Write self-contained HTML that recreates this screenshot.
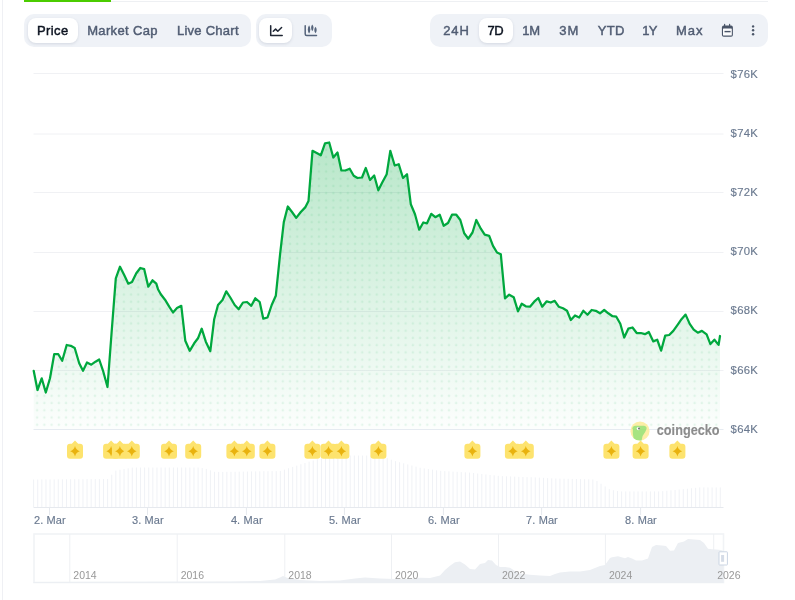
<!DOCTYPE html>
<html><head><meta charset="utf-8">
<style>
html,body{margin:0;padding:0;background:#fff;}
body{width:795px;height:600px;overflow:hidden;position:relative;font-family:"Liberation Sans",Arial,sans-serif;}
.chart{position:absolute;left:0;top:0;}
.lb{position:absolute;left:2px;top:0;width:1px;height:600px;background:#eff0f4;}
.tl{position:absolute;left:24px;top:1px;width:744px;height:1px;background:#eef0f3;}
.tg{position:absolute;left:24px;top:0;width:87px;height:2px;background:#4bcc00;}
.grp{position:absolute;top:14px;height:33px;background:#eff2f7;border-radius:10px;}
.btn{position:absolute;height:25px;border-radius:8px;background:#fff;box-shadow:0 1px 3px rgba(88,102,126,0.18);}
.tx{position:absolute;top:18px;height:25px;line-height:25px;font-size:13px;color:#515d73;-webkit-text-stroke:0.45px #515d73;white-space:nowrap;}
.tx.on{color:#0d1421;-webkit-text-stroke:0.45px #0d1421;}
.ic{position:absolute;left:0;top:0;}
.wrap{position:absolute;left:0;top:0;width:795px;height:600px;background:#fff;will-change:transform;}
.yl text{font-size:11.3px;letter-spacing:0.3px;fill:#6b7a90;stroke:#6b7a90;stroke-width:0.15px;font-family:"Liberation Sans",Arial,sans-serif;}
.xl text{font-size:11px;letter-spacing:0.1px;fill:#6b7a90;stroke:#6b7a90;stroke-width:0.15px;font-family:"Liberation Sans",Arial,sans-serif;}
.nl text{font-size:10.5px;fill:#999;font-family:"Liberation Sans",Arial,sans-serif;}
.cg{font-size:14.4px;font-weight:bold;fill:#8c8c8c;stroke:#8c8c8c;stroke-width:0.1px;font-family:"Liberation Sans",Arial,sans-serif;}
</style></head><body><div class="wrap">
<div class="lb"></div>
<div class="tl"></div>
<div class="tg"></div>
<div class="grp" style="left:24px;width:227.3px;"></div>
<div class="btn on" style="left:27.8px;top:18px;width:49.9px;"></div>
<div class="grp" style="left:255.7px;width:76px;"></div>
<div class="btn on" style="left:259px;top:18px;width:33px;"></div>
<div class="grp" style="left:430px;width:338px;"></div>
<div class="btn on" style="left:479px;top:18px;width:34px;"></div>
<div class="tx on" style="left:36.9px;letter-spacing:0.43px">Price</div>
<div class="tx" style="left:87.16px;letter-spacing:0.36px">Market Cap</div>
<div class="tx" style="left:176.96px;letter-spacing:0.26px">Live Chart</div>
<div class="tx" style="left:443.15px;letter-spacing:0.9px">24H</div>
<div class="tx on" style="left:487.45px;letter-spacing:-0.35px">7D</div>
<div class="tx" style="left:522.15px;letter-spacing:-0.1px">1M</div>
<div class="tx" style="left:559.14px;letter-spacing:1.1px">3M</div>
<div class="tx" style="left:597.73px;letter-spacing:0.35px">YTD</div>
<div class="tx" style="left:642.2px;letter-spacing:-0.6px">1Y</div>
<div class="tx" style="left:675.96px;letter-spacing:1.0px">Max</div>
<svg class="ic" width="795" height="60" viewBox="0 0 795 60">
<g fill="none" stroke="#1e2533" stroke-width="1.5" stroke-linecap="round" stroke-linejoin="round"><path d="M270.7 25.8 V35.5 H282.2"/><path d="M273.3 31.3 L275.6 29.1 L277.8 31.2 L281.6 27.5"/></g>
<g fill="none" stroke="#55647b" stroke-width="1.5" stroke-linecap="round" stroke-linejoin="round"><path d="M305.2 25.8 V34 Q305.2 35.5 306.7 35.5 H316.5"/></g>
<g fill="#55647b">
<path d="M309.07 25.3 Q310.3 27 310.3 29.45 Q310.3 31.9 309.07 33.6 Q307.84 31.9 307.84 29.45 Q307.84 27 309.07 25.3Z"/>
<path d="M312.3 24.5 Q313.5 26 313.5 27.85 Q313.5 29.7 312.3 31.2 Q311.1 29.7 311.1 27.85 Q311.1 26 312.3 24.5Z"/>
<path d="M315.5 26.8 Q316.7 28.3 316.7 30.05 Q316.7 31.8 315.5 33.3 Q314.3 31.8 314.3 30.05 Q314.3 28.3 315.5 26.8Z"/>
</g>
<g fill="#4a5568"><rect x="721.9" y="25.6" width="11" height="11.1" rx="1.8"/><rect x="724" y="23.8" width="1.2" height="2.6" rx="0.6"/><rect x="729" y="23.8" width="1.2" height="2.6" rx="0.6"/></g>
<rect x="723" y="28.5" width="8.8" height="7.1" rx="0.6" fill="#fbfcfd"/>
<rect x="724.5" y="30.9" width="6.1" height="1.4" fill="#4a5568"/>
<g fill="#4a5568"><circle cx="753.1" cy="26.4" r="1.2"/><circle cx="753.1" cy="30.3" r="1.2"/><circle cx="753.1" cy="34.2" r="1.2"/></g>
</svg>
<svg class="chart" width="795" height="600" viewBox="0 0 795 600">
<defs>
<linearGradient id="g" x1="0" y1="142" x2="0" y2="429.2" gradientUnits="userSpaceOnUse">
<stop offset="0" stop-color="#00a83e" stop-opacity="0.28"/>
<stop offset="1" stop-color="#00a83e" stop-opacity="0.01"/>
</linearGradient>
<pattern id="dots" x="33.54" y="1.570" width="7.225" height="7.235" patternUnits="userSpaceOnUse">
<circle cx="3.61" cy="3.6" r="1.25" fill="#00a83e" fill-opacity="0.09"/>
</pattern>
<clipPath id="ac"><path d="M33.7 370.8 L37.5 390 L41.7 378.3 L45.8 392.5 L50 378.3 L54.2 354.2 L58.3 354.2 L62.2 360.8 L66.7 345 L70.8 345.8 L74.7 348 L79.2 363.3 L83 370.8 L87 362.5 L91.3 364.7 L95.5 361.7 L99.2 359.5 L103.3 371.7 L107.5 387 L111.6 332.5 L115.8 278.3 L120 266.7 L124.2 275 L128.3 283.7 L132 282 L136.3 273.3 L140.3 268 L144.2 269.2 L148.3 286.7 L152.5 280.3 L156.3 283.7 L158 289.2 L160.8 294.2 L165 299.7 L169.2 306.7 L173 312.5 L177 308 L181.3 305.8 L185.3 340.8 L189.7 350.8 L194.2 343.3 L198 338.3 L201.7 328.7 L205.8 341.7 L210.3 351.2 L214.2 319.2 L218 305 L222.5 300 L226.3 291.3 L230.3 297.5 L234.7 305 L238.7 309.2 L243 302.5 L247 302 L251.3 305.8 L255.3 298.3 L259.7 302 L263.3 318.7 L267.5 317.5 L271.7 305 L275.8 295.8 L280.1 254.2 L283.8 222.1 L287.8 206.5 L292 212 L296.2 217.9 L300.8 212 L305.2 207.4 L308.5 201 L312.5 150.8 L316.7 153 L320.8 155.3 L325 143.3 L329.2 142.5 L333.3 157.5 L337.5 152.5 L341.3 170.3 L345.3 170.5 L349.7 168.7 L353.7 175.8 L357.5 178 L362 177.5 L365.8 168 L370 180 L374.2 175.5 L378.3 190.3 L382.5 182 L386.7 174.2 L390.3 150.8 L394.7 165.5 L398.7 164.2 L403 178 L407 174.2 L410.8 204.2 L415 214.2 L419.2 229.7 L423.3 222.5 L427 223.3 L431.3 213.8 L435.3 217.2 L439.7 214.7 L443.7 225.8 L448 223 L452 214.7 L456.3 214.7 L460.3 220 L464.2 233.3 L468.3 238.7 L472.5 232.5 L476.3 220 L480.8 228.7 L484.7 234.7 L489.2 235.8 L493 245.8 L497 252.5 L500.8 254.2 L505 298.3 L509.2 294.7 L513.7 297.2 L518 311.3 L521.7 303.7 L525.8 306.3 L530 306.7 L534.2 301.7 L538.3 298 L542.2 306.7 L546.7 301.3 L550.8 302.5 L554.7 300.8 L558.7 306.7 L563 308.3 L567 310.8 L570.8 320 L575 315.5 L579.2 317.5 L583.3 310.8 L587.5 314.7 L591.7 310 L595.8 310.8 L600 313.3 L604.2 310 L608.3 313.3 L612.5 316.2 L616.3 316.7 L620.3 323.7 L624.2 337.5 L628.3 328.7 L632.5 327.5 L636.7 333 L640.8 333 L645 334.2 L648.8 332 L653.3 341.4 L657.2 339.7 L661.1 350.7 L665.2 335.6 L669.2 335 L673.3 330.9 L677.4 325.1 L681.5 319.2 L685.6 314.6 L689.7 323.9 L693.7 329.7 L697.8 332.7 L701.9 330.9 L706.6 334.4 L710.4 344.1 L714.4 339.7 L718.6 344.9 L720 336 L720 429.2 L33.7 429.2 Z"/></clipPath>
</defs>
<line x1="33.5" x2="723.5" y1="73.5" y2="73.5" stroke="#f0f1f4" stroke-width="1"/><line x1="33.5" x2="723.5" y1="134" y2="134" stroke="#f0f1f4" stroke-width="1"/><line x1="33.5" x2="723.5" y1="192.5" y2="192.5" stroke="#f0f1f4" stroke-width="1"/><line x1="33.5" x2="723.5" y1="252.5" y2="252.5" stroke="#f0f1f4" stroke-width="1"/><line x1="33.5" x2="723.5" y1="311.5" y2="311.5" stroke="#f0f1f4" stroke-width="1"/><line x1="33.5" x2="723.5" y1="370.5" y2="370.5" stroke="#f0f1f4" stroke-width="1"/>
<path d="M33.7 370.8 L37.5 390 L41.7 378.3 L45.8 392.5 L50 378.3 L54.2 354.2 L58.3 354.2 L62.2 360.8 L66.7 345 L70.8 345.8 L74.7 348 L79.2 363.3 L83 370.8 L87 362.5 L91.3 364.7 L95.5 361.7 L99.2 359.5 L103.3 371.7 L107.5 387 L111.6 332.5 L115.8 278.3 L120 266.7 L124.2 275 L128.3 283.7 L132 282 L136.3 273.3 L140.3 268 L144.2 269.2 L148.3 286.7 L152.5 280.3 L156.3 283.7 L158 289.2 L160.8 294.2 L165 299.7 L169.2 306.7 L173 312.5 L177 308 L181.3 305.8 L185.3 340.8 L189.7 350.8 L194.2 343.3 L198 338.3 L201.7 328.7 L205.8 341.7 L210.3 351.2 L214.2 319.2 L218 305 L222.5 300 L226.3 291.3 L230.3 297.5 L234.7 305 L238.7 309.2 L243 302.5 L247 302 L251.3 305.8 L255.3 298.3 L259.7 302 L263.3 318.7 L267.5 317.5 L271.7 305 L275.8 295.8 L280.1 254.2 L283.8 222.1 L287.8 206.5 L292 212 L296.2 217.9 L300.8 212 L305.2 207.4 L308.5 201 L312.5 150.8 L316.7 153 L320.8 155.3 L325 143.3 L329.2 142.5 L333.3 157.5 L337.5 152.5 L341.3 170.3 L345.3 170.5 L349.7 168.7 L353.7 175.8 L357.5 178 L362 177.5 L365.8 168 L370 180 L374.2 175.5 L378.3 190.3 L382.5 182 L386.7 174.2 L390.3 150.8 L394.7 165.5 L398.7 164.2 L403 178 L407 174.2 L410.8 204.2 L415 214.2 L419.2 229.7 L423.3 222.5 L427 223.3 L431.3 213.8 L435.3 217.2 L439.7 214.7 L443.7 225.8 L448 223 L452 214.7 L456.3 214.7 L460.3 220 L464.2 233.3 L468.3 238.7 L472.5 232.5 L476.3 220 L480.8 228.7 L484.7 234.7 L489.2 235.8 L493 245.8 L497 252.5 L500.8 254.2 L505 298.3 L509.2 294.7 L513.7 297.2 L518 311.3 L521.7 303.7 L525.8 306.3 L530 306.7 L534.2 301.7 L538.3 298 L542.2 306.7 L546.7 301.3 L550.8 302.5 L554.7 300.8 L558.7 306.7 L563 308.3 L567 310.8 L570.8 320 L575 315.5 L579.2 317.5 L583.3 310.8 L587.5 314.7 L591.7 310 L595.8 310.8 L600 313.3 L604.2 310 L608.3 313.3 L612.5 316.2 L616.3 316.7 L620.3 323.7 L624.2 337.5 L628.3 328.7 L632.5 327.5 L636.7 333 L640.8 333 L645 334.2 L648.8 332 L653.3 341.4 L657.2 339.7 L661.1 350.7 L665.2 335.6 L669.2 335 L673.3 330.9 L677.4 325.1 L681.5 319.2 L685.6 314.6 L689.7 323.9 L693.7 329.7 L697.8 332.7 L701.9 330.9 L706.6 334.4 L710.4 344.1 L714.4 339.7 L718.6 344.9 L720 336 L720 429.2 L33.7 429.2 Z" fill="url(#g)"/>
<rect x="33" y="130" width="690" height="300" fill="url(#dots)" clip-path="url(#ac)"/>
<line x1="33.5" x2="723.5" y1="429.5" y2="429.5" stroke="#e6ebf1" stroke-width="1"/>
<path d="M33.7 370.8 L37.5 390 L41.7 378.3 L45.8 392.5 L50 378.3 L54.2 354.2 L58.3 354.2 L62.2 360.8 L66.7 345 L70.8 345.8 L74.7 348 L79.2 363.3 L83 370.8 L87 362.5 L91.3 364.7 L95.5 361.7 L99.2 359.5 L103.3 371.7 L107.5 387 L111.6 332.5 L115.8 278.3 L120 266.7 L124.2 275 L128.3 283.7 L132 282 L136.3 273.3 L140.3 268 L144.2 269.2 L148.3 286.7 L152.5 280.3 L156.3 283.7 L158 289.2 L160.8 294.2 L165 299.7 L169.2 306.7 L173 312.5 L177 308 L181.3 305.8 L185.3 340.8 L189.7 350.8 L194.2 343.3 L198 338.3 L201.7 328.7 L205.8 341.7 L210.3 351.2 L214.2 319.2 L218 305 L222.5 300 L226.3 291.3 L230.3 297.5 L234.7 305 L238.7 309.2 L243 302.5 L247 302 L251.3 305.8 L255.3 298.3 L259.7 302 L263.3 318.7 L267.5 317.5 L271.7 305 L275.8 295.8 L280.1 254.2 L283.8 222.1 L287.8 206.5 L292 212 L296.2 217.9 L300.8 212 L305.2 207.4 L308.5 201 L312.5 150.8 L316.7 153 L320.8 155.3 L325 143.3 L329.2 142.5 L333.3 157.5 L337.5 152.5 L341.3 170.3 L345.3 170.5 L349.7 168.7 L353.7 175.8 L357.5 178 L362 177.5 L365.8 168 L370 180 L374.2 175.5 L378.3 190.3 L382.5 182 L386.7 174.2 L390.3 150.8 L394.7 165.5 L398.7 164.2 L403 178 L407 174.2 L410.8 204.2 L415 214.2 L419.2 229.7 L423.3 222.5 L427 223.3 L431.3 213.8 L435.3 217.2 L439.7 214.7 L443.7 225.8 L448 223 L452 214.7 L456.3 214.7 L460.3 220 L464.2 233.3 L468.3 238.7 L472.5 232.5 L476.3 220 L480.8 228.7 L484.7 234.7 L489.2 235.8 L493 245.8 L497 252.5 L500.8 254.2 L505 298.3 L509.2 294.7 L513.7 297.2 L518 311.3 L521.7 303.7 L525.8 306.3 L530 306.7 L534.2 301.7 L538.3 298 L542.2 306.7 L546.7 301.3 L550.8 302.5 L554.7 300.8 L558.7 306.7 L563 308.3 L567 310.8 L570.8 320 L575 315.5 L579.2 317.5 L583.3 310.8 L587.5 314.7 L591.7 310 L595.8 310.8 L600 313.3 L604.2 310 L608.3 313.3 L612.5 316.2 L616.3 316.7 L620.3 323.7 L624.2 337.5 L628.3 328.7 L632.5 327.5 L636.7 333 L640.8 333 L645 334.2 L648.8 332 L653.3 341.4 L657.2 339.7 L661.1 350.7 L665.2 335.6 L669.2 335 L673.3 330.9 L677.4 325.1 L681.5 319.2 L685.6 314.6 L689.7 323.9 L693.7 329.7 L697.8 332.7 L701.9 330.9 L706.6 334.4 L710.4 344.1 L714.4 339.7 L718.6 344.9 L720 336" fill="none" stroke="#00a83e" stroke-width="2.25" stroke-linejoin="round" stroke-linecap="round"/>
<g class="yl"><text x="730.6" y="77.6">$76K</text><text x="730.6" y="136.8">$74K</text><text x="730.6" y="196.0">$72K</text><text x="730.6" y="255.2">$70K</text><text x="730.6" y="314.4">$68K</text><text x="730.6" y="373.6">$66K</text><text x="730.6" y="432.8">$64K</text></g>
<g fill="#f0f2f6"><rect x="33.10" y="479.5" width="1" height="27.5"/><rect x="37.21" y="479.5" width="1" height="27.5"/><rect x="41.32" y="479.4" width="1" height="27.6"/><rect x="45.44" y="479.4" width="1" height="27.6"/><rect x="49.55" y="479.4" width="1" height="27.6"/><rect x="53.66" y="479.4" width="1" height="27.6"/><rect x="57.77" y="479.3" width="1" height="27.7"/><rect x="61.88" y="479.3" width="1" height="27.7"/><rect x="66.00" y="479.3" width="1" height="27.7"/><rect x="70.11" y="479.2" width="1" height="27.8"/><rect x="74.22" y="479.2" width="1" height="27.8"/><rect x="78.33" y="479.2" width="1" height="27.8"/><rect x="82.44" y="479.2" width="1" height="27.8"/><rect x="86.56" y="479.1" width="1" height="27.9"/><rect x="90.67" y="479.1" width="1" height="27.9"/><rect x="94.78" y="479.1" width="1" height="27.9"/><rect x="98.89" y="479.1" width="1" height="27.9"/><rect x="103.00" y="479.0" width="1" height="28.0"/><rect x="107.12" y="479.0" width="1" height="28.0"/><rect x="111.23" y="474.7" width="1" height="32.3"/><rect x="115.34" y="470.6" width="1" height="36.4"/><rect x="119.45" y="469.7" width="1" height="37.3"/><rect x="123.56" y="469.0" width="1" height="38.0"/><rect x="127.68" y="468.3" width="1" height="38.7"/><rect x="131.79" y="467.6" width="1" height="39.4"/><rect x="135.90" y="467.5" width="1" height="39.5"/><rect x="140.01" y="467.5" width="1" height="39.5"/><rect x="144.12" y="467.5" width="1" height="39.5"/><rect x="148.24" y="467.5" width="1" height="39.5"/><rect x="152.35" y="467.5" width="1" height="39.5"/><rect x="156.46" y="467.5" width="1" height="39.5"/><rect x="160.57" y="467.5" width="1" height="39.5"/><rect x="164.68" y="467.5" width="1" height="39.5"/><rect x="168.80" y="467.5" width="1" height="39.5"/><rect x="172.91" y="467.5" width="1" height="39.5"/><rect x="177.02" y="467.5" width="1" height="39.5"/><rect x="181.13" y="467.5" width="1" height="39.5"/><rect x="185.24" y="467.5" width="1" height="39.5"/><rect x="189.36" y="467.5" width="1" height="39.5"/><rect x="193.47" y="467.5" width="1" height="39.5"/><rect x="197.58" y="467.5" width="1" height="39.5"/><rect x="201.69" y="468.0" width="1" height="39.0"/><rect x="205.80" y="468.9" width="1" height="38.1"/><rect x="209.91" y="470.3" width="1" height="36.7"/><rect x="214.03" y="471.8" width="1" height="35.2"/><rect x="218.14" y="471.9" width="1" height="35.1"/><rect x="222.25" y="471.9" width="1" height="35.1"/><rect x="226.36" y="471.8" width="1" height="35.2"/><rect x="230.47" y="471.8" width="1" height="35.2"/><rect x="234.59" y="471.7" width="1" height="35.3"/><rect x="238.70" y="471.6" width="1" height="35.4"/><rect x="242.81" y="471.6" width="1" height="35.4"/><rect x="246.92" y="471.5" width="1" height="35.5"/><rect x="251.03" y="471.4" width="1" height="35.6"/><rect x="255.15" y="471.4" width="1" height="35.6"/><rect x="259.26" y="471.3" width="1" height="35.7"/><rect x="263.37" y="471.2" width="1" height="35.8"/><rect x="267.48" y="471.2" width="1" height="35.8"/><rect x="271.59" y="471.1" width="1" height="35.9"/><rect x="275.71" y="471.1" width="1" height="35.9"/><rect x="279.82" y="470.9" width="1" height="36.1"/><rect x="283.93" y="469.6" width="1" height="37.4"/><rect x="288.04" y="468.2" width="1" height="38.8"/><rect x="292.15" y="466.9" width="1" height="40.1"/><rect x="296.27" y="465.6" width="1" height="41.4"/><rect x="300.38" y="464.2" width="1" height="42.8"/><rect x="304.49" y="462.9" width="1" height="44.1"/><rect x="308.60" y="461.6" width="1" height="45.4"/><rect x="312.71" y="460.4" width="1" height="46.6"/><rect x="316.83" y="459.2" width="1" height="47.8"/><rect x="320.94" y="458.2" width="1" height="48.8"/><rect x="325.05" y="457.6" width="1" height="49.4"/><rect x="329.16" y="457.0" width="1" height="50.0"/><rect x="333.27" y="456.4" width="1" height="50.6"/><rect x="337.39" y="455.8" width="1" height="51.2"/><rect x="341.50" y="455.5" width="1" height="51.5"/><rect x="345.61" y="455.5" width="1" height="51.5"/><rect x="349.72" y="455.5" width="1" height="51.5"/><rect x="353.83" y="455.5" width="1" height="51.5"/><rect x="357.95" y="455.5" width="1" height="51.5"/><rect x="362.06" y="455.5" width="1" height="51.5"/><rect x="366.17" y="455.5" width="1" height="51.5"/><rect x="370.28" y="455.5" width="1" height="51.5"/><rect x="374.39" y="455.5" width="1" height="51.5"/><rect x="378.51" y="455.5" width="1" height="51.5"/><rect x="382.62" y="456.6" width="1" height="50.4"/><rect x="386.73" y="458.2" width="1" height="48.8"/><rect x="390.84" y="459.7" width="1" height="47.3"/><rect x="394.95" y="461.1" width="1" height="45.9"/><rect x="399.07" y="462.2" width="1" height="44.8"/><rect x="403.18" y="463.3" width="1" height="43.7"/><rect x="407.29" y="464.4" width="1" height="42.6"/><rect x="411.40" y="465.5" width="1" height="41.5"/><rect x="415.51" y="466.6" width="1" height="40.4"/><rect x="419.63" y="467.7" width="1" height="39.3"/><rect x="423.74" y="468.4" width="1" height="38.6"/><rect x="427.85" y="469.0" width="1" height="38.0"/><rect x="431.96" y="469.6" width="1" height="37.4"/><rect x="436.07" y="470.3" width="1" height="36.7"/><rect x="440.19" y="470.8" width="1" height="36.2"/><rect x="444.30" y="471.1" width="1" height="35.9"/><rect x="448.41" y="471.3" width="1" height="35.7"/><rect x="452.52" y="471.6" width="1" height="35.4"/><rect x="456.63" y="471.8" width="1" height="35.2"/><rect x="460.75" y="472.1" width="1" height="34.9"/><rect x="464.86" y="472.3" width="1" height="34.7"/><rect x="468.97" y="472.6" width="1" height="34.4"/><rect x="473.08" y="473.0" width="1" height="34.0"/><rect x="477.19" y="473.5" width="1" height="33.5"/><rect x="481.31" y="473.9" width="1" height="33.1"/><rect x="485.42" y="474.4" width="1" height="32.6"/><rect x="489.53" y="474.9" width="1" height="32.1"/><rect x="493.64" y="475.3" width="1" height="31.7"/><rect x="497.75" y="475.8" width="1" height="31.2"/><rect x="501.87" y="476.1" width="1" height="30.9"/><rect x="505.98" y="476.3" width="1" height="30.7"/><rect x="510.09" y="476.4" width="1" height="30.6"/><rect x="514.20" y="476.6" width="1" height="30.4"/><rect x="518.31" y="476.8" width="1" height="30.2"/><rect x="522.43" y="476.9" width="1" height="30.1"/><rect x="526.54" y="477.1" width="1" height="29.9"/><rect x="530.65" y="477.2" width="1" height="29.8"/><rect x="534.76" y="477.4" width="1" height="29.6"/><rect x="538.87" y="477.6" width="1" height="29.4"/><rect x="542.99" y="477.8" width="1" height="29.2"/><rect x="547.10" y="478.1" width="1" height="28.9"/><rect x="551.21" y="478.3" width="1" height="28.7"/><rect x="555.32" y="478.5" width="1" height="28.5"/><rect x="559.43" y="478.6" width="1" height="28.4"/><rect x="563.54" y="478.7" width="1" height="28.3"/><rect x="567.66" y="478.8" width="1" height="28.2"/><rect x="571.77" y="478.9" width="1" height="28.1"/><rect x="575.88" y="479.0" width="1" height="28.0"/><rect x="579.99" y="479.1" width="1" height="27.9"/><rect x="584.10" y="479.2" width="1" height="27.8"/><rect x="588.22" y="479.3" width="1" height="27.7"/><rect x="592.33" y="479.4" width="1" height="27.6"/><rect x="596.44" y="480.9" width="1" height="26.1"/><rect x="600.55" y="483.7" width="1" height="23.3"/><rect x="604.66" y="486.4" width="1" height="20.6"/><rect x="608.78" y="489.1" width="1" height="17.9"/><rect x="612.89" y="490.2" width="1" height="16.8"/><rect x="617.00" y="491.0" width="1" height="16.0"/><rect x="621.11" y="491.4" width="1" height="15.6"/><rect x="625.22" y="491.4" width="1" height="15.6"/><rect x="629.34" y="491.4" width="1" height="15.6"/><rect x="633.45" y="491.4" width="1" height="15.6"/><rect x="637.56" y="491.4" width="1" height="15.6"/><rect x="641.67" y="491.4" width="1" height="15.6"/><rect x="645.78" y="491.4" width="1" height="15.6"/><rect x="649.90" y="491.4" width="1" height="15.6"/><rect x="654.01" y="491.4" width="1" height="15.6"/><rect x="658.12" y="491.4" width="1" height="15.6"/><rect x="662.23" y="491.1" width="1" height="15.9"/><rect x="666.34" y="490.7" width="1" height="16.3"/><rect x="670.46" y="490.3" width="1" height="16.7"/><rect x="674.57" y="489.9" width="1" height="17.1"/><rect x="678.68" y="489.5" width="1" height="17.5"/><rect x="682.79" y="489.1" width="1" height="17.9"/><rect x="686.90" y="488.7" width="1" height="18.3"/><rect x="691.02" y="488.2" width="1" height="18.8"/><rect x="695.13" y="487.8" width="1" height="19.2"/><rect x="699.24" y="487.4" width="1" height="19.6"/><rect x="703.35" y="487.4" width="1" height="19.6"/><rect x="707.46" y="487.4" width="1" height="19.6"/><rect x="711.58" y="487.4" width="1" height="19.6"/><rect x="715.69" y="487.4" width="1" height="19.6"/><rect x="719.80" y="487.4" width="1" height="19.6"/></g>
<line x1="33.5" x2="723.5" y1="507.5" y2="507.5" stroke="#e6e9ee" stroke-width="1"/>
<line x1="49.5" x2="49.5" y1="507" y2="515" stroke="#e6e9ee" stroke-width="1"/><line x1="147.5" x2="147.5" y1="507" y2="515" stroke="#e6e9ee" stroke-width="1"/><line x1="246.4" x2="246.4" y1="507" y2="515" stroke="#e6e9ee" stroke-width="1"/><line x1="344.4" x2="344.4" y1="507" y2="515" stroke="#e6e9ee" stroke-width="1"/><line x1="443.4" x2="443.4" y1="507" y2="515" stroke="#e6e9ee" stroke-width="1"/><line x1="541.6" x2="541.6" y1="507" y2="515" stroke="#e6e9ee" stroke-width="1"/><line x1="640.6" x2="640.6" y1="507" y2="515" stroke="#e6e9ee" stroke-width="1"/>
<g class="xl"><text x="49.9" y="524" text-anchor="middle">2. Mar</text><text x="147.9" y="524" text-anchor="middle">3. Mar</text><text x="246.8" y="524" text-anchor="middle">4. Mar</text><text x="344.8" y="524" text-anchor="middle">5. Mar</text><text x="443.8" y="524" text-anchor="middle">6. Mar</text><text x="542.0" y="524" text-anchor="middle">7. Mar</text><text x="641.0" y="524" text-anchor="middle">8. Mar</text></g>
<g transform="translate(75.0,451.2)"><path d="M-8 -4.4 Q-8 -7.4 -5 -7.4 L-3.2 -7.4 L0 -10.8 L3.2 -7.4 L5 -7.4 Q8 -7.4 8 -4.4 L8 4.6 Q8 7.6 5 7.6 L-5 7.6 Q-8 7.6 -8 4.6 Z" fill="#fde36e"/><path d="M0 -5.2 Q1.05 -1.05 4.8 0 Q1.05 1.05 0 5.2 Q-1.05 1.05 -4.8 0 Q-1.05 -1.05 0 -5.2 Z" fill="#e9b20e"/></g><g transform="translate(111.1,451.2)"><path d="M-8 -4.4 Q-8 -7.4 -5 -7.4 L-3.2 -7.4 L0 -10.8 L3.2 -7.4 L5 -7.4 Q8 -7.4 8 -4.4 L8 4.6 Q8 7.6 5 7.6 L-5 7.6 Q-8 7.6 -8 4.6 Z" fill="#fde36e"/><path d="M0 -5.2 Q1.05 -1.05 4.8 0 Q1.05 1.05 0 5.2 Q-1.05 1.05 -4.8 0 Q-1.05 -1.05 0 -5.2 Z" fill="#e9b20e"/></g><g transform="translate(119.9,451.2)"><path d="M-8 -4.4 Q-8 -7.4 -5 -7.4 L-3.2 -7.4 L0 -10.8 L3.2 -7.4 L5 -7.4 Q8 -7.4 8 -4.4 L8 4.6 Q8 7.6 5 7.6 L-5 7.6 Q-8 7.6 -8 4.6 Z" fill="#fde36e"/><path d="M0 -5.2 Q1.05 -1.05 4.8 0 Q1.05 1.05 0 5.2 Q-1.05 1.05 -4.8 0 Q-1.05 -1.05 0 -5.2 Z" fill="#e9b20e"/></g><g transform="translate(131.8,451.2)"><path d="M-8 -4.4 Q-8 -7.4 -5 -7.4 L-3.2 -7.4 L0 -10.8 L3.2 -7.4 L5 -7.4 Q8 -7.4 8 -4.4 L8 4.6 Q8 7.6 5 7.6 L-5 7.6 Q-8 7.6 -8 4.6 Z" fill="#fde36e"/><path d="M0 -5.2 Q1.05 -1.05 4.8 0 Q1.05 1.05 0 5.2 Q-1.05 1.05 -4.8 0 Q-1.05 -1.05 0 -5.2 Z" fill="#e9b20e"/></g><g transform="translate(169.0,451.2)"><path d="M-8 -4.4 Q-8 -7.4 -5 -7.4 L-3.2 -7.4 L0 -10.8 L3.2 -7.4 L5 -7.4 Q8 -7.4 8 -4.4 L8 4.6 Q8 7.6 5 7.6 L-5 7.6 Q-8 7.6 -8 4.6 Z" fill="#fde36e"/><path d="M0 -5.2 Q1.05 -1.05 4.8 0 Q1.05 1.05 0 5.2 Q-1.05 1.05 -4.8 0 Q-1.05 -1.05 0 -5.2 Z" fill="#e9b20e"/></g><g transform="translate(193.2,451.2)"><path d="M-8 -4.4 Q-8 -7.4 -5 -7.4 L-3.2 -7.4 L0 -10.8 L3.2 -7.4 L5 -7.4 Q8 -7.4 8 -4.4 L8 4.6 Q8 7.6 5 7.6 L-5 7.6 Q-8 7.6 -8 4.6 Z" fill="#fde36e"/><path d="M0 -5.2 Q1.05 -1.05 4.8 0 Q1.05 1.05 0 5.2 Q-1.05 1.05 -4.8 0 Q-1.05 -1.05 0 -5.2 Z" fill="#e9b20e"/></g><g transform="translate(234.4,451.2)"><path d="M-8 -4.4 Q-8 -7.4 -5 -7.4 L-3.2 -7.4 L0 -10.8 L3.2 -7.4 L5 -7.4 Q8 -7.4 8 -4.4 L8 4.6 Q8 7.6 5 7.6 L-5 7.6 Q-8 7.6 -8 4.6 Z" fill="#fde36e"/><path d="M0 -5.2 Q1.05 -1.05 4.8 0 Q1.05 1.05 0 5.2 Q-1.05 1.05 -4.8 0 Q-1.05 -1.05 0 -5.2 Z" fill="#e9b20e"/></g><g transform="translate(246.8,451.2)"><path d="M-8 -4.4 Q-8 -7.4 -5 -7.4 L-3.2 -7.4 L0 -10.8 L3.2 -7.4 L5 -7.4 Q8 -7.4 8 -4.4 L8 4.6 Q8 7.6 5 7.6 L-5 7.6 Q-8 7.6 -8 4.6 Z" fill="#fde36e"/><path d="M0 -5.2 Q1.05 -1.05 4.8 0 Q1.05 1.05 0 5.2 Q-1.05 1.05 -4.8 0 Q-1.05 -1.05 0 -5.2 Z" fill="#e9b20e"/></g><g transform="translate(267.4,451.2)"><path d="M-8 -4.4 Q-8 -7.4 -5 -7.4 L-3.2 -7.4 L0 -10.8 L3.2 -7.4 L5 -7.4 Q8 -7.4 8 -4.4 L8 4.6 Q8 7.6 5 7.6 L-5 7.6 Q-8 7.6 -8 4.6 Z" fill="#fde36e"/><path d="M0 -5.2 Q1.05 -1.05 4.8 0 Q1.05 1.05 0 5.2 Q-1.05 1.05 -4.8 0 Q-1.05 -1.05 0 -5.2 Z" fill="#e9b20e"/></g><g transform="translate(312.4,451.2)"><path d="M-8 -4.4 Q-8 -7.4 -5 -7.4 L-3.2 -7.4 L0 -10.8 L3.2 -7.4 L5 -7.4 Q8 -7.4 8 -4.4 L8 4.6 Q8 7.6 5 7.6 L-5 7.6 Q-8 7.6 -8 4.6 Z" fill="#fde36e"/><path d="M0 -5.2 Q1.05 -1.05 4.8 0 Q1.05 1.05 0 5.2 Q-1.05 1.05 -4.8 0 Q-1.05 -1.05 0 -5.2 Z" fill="#e9b20e"/></g><g transform="translate(328.5,451.2)"><path d="M-8 -4.4 Q-8 -7.4 -5 -7.4 L-3.2 -7.4 L0 -10.8 L3.2 -7.4 L5 -7.4 Q8 -7.4 8 -4.4 L8 4.6 Q8 7.6 5 7.6 L-5 7.6 Q-8 7.6 -8 4.6 Z" fill="#fde36e"/><path d="M0 -5.2 Q1.05 -1.05 4.8 0 Q1.05 1.05 0 5.2 Q-1.05 1.05 -4.8 0 Q-1.05 -1.05 0 -5.2 Z" fill="#e9b20e"/></g><g transform="translate(341.4,451.2)"><path d="M-8 -4.4 Q-8 -7.4 -5 -7.4 L-3.2 -7.4 L0 -10.8 L3.2 -7.4 L5 -7.4 Q8 -7.4 8 -4.4 L8 4.6 Q8 7.6 5 7.6 L-5 7.6 Q-8 7.6 -8 4.6 Z" fill="#fde36e"/><path d="M0 -5.2 Q1.05 -1.05 4.8 0 Q1.05 1.05 0 5.2 Q-1.05 1.05 -4.8 0 Q-1.05 -1.05 0 -5.2 Z" fill="#e9b20e"/></g><g transform="translate(378.4,451.2)"><path d="M-8 -4.4 Q-8 -7.4 -5 -7.4 L-3.2 -7.4 L0 -10.8 L3.2 -7.4 L5 -7.4 Q8 -7.4 8 -4.4 L8 4.6 Q8 7.6 5 7.6 L-5 7.6 Q-8 7.6 -8 4.6 Z" fill="#fde36e"/><path d="M0 -5.2 Q1.05 -1.05 4.8 0 Q1.05 1.05 0 5.2 Q-1.05 1.05 -4.8 0 Q-1.05 -1.05 0 -5.2 Z" fill="#e9b20e"/></g><g transform="translate(472.4,451.2)"><path d="M-8 -4.4 Q-8 -7.4 -5 -7.4 L-3.2 -7.4 L0 -10.8 L3.2 -7.4 L5 -7.4 Q8 -7.4 8 -4.4 L8 4.6 Q8 7.6 5 7.6 L-5 7.6 Q-8 7.6 -8 4.6 Z" fill="#fde36e"/><path d="M0 -5.2 Q1.05 -1.05 4.8 0 Q1.05 1.05 0 5.2 Q-1.05 1.05 -4.8 0 Q-1.05 -1.05 0 -5.2 Z" fill="#e9b20e"/></g><g transform="translate(512.9,451.2)"><path d="M-8 -4.4 Q-8 -7.4 -5 -7.4 L-3.2 -7.4 L0 -10.8 L3.2 -7.4 L5 -7.4 Q8 -7.4 8 -4.4 L8 4.6 Q8 7.6 5 7.6 L-5 7.6 Q-8 7.6 -8 4.6 Z" fill="#fde36e"/><path d="M0 -5.2 Q1.05 -1.05 4.8 0 Q1.05 1.05 0 5.2 Q-1.05 1.05 -4.8 0 Q-1.05 -1.05 0 -5.2 Z" fill="#e9b20e"/></g><g transform="translate(525.8,451.2)"><path d="M-8 -4.4 Q-8 -7.4 -5 -7.4 L-3.2 -7.4 L0 -10.8 L3.2 -7.4 L5 -7.4 Q8 -7.4 8 -4.4 L8 4.6 Q8 7.6 5 7.6 L-5 7.6 Q-8 7.6 -8 4.6 Z" fill="#fde36e"/><path d="M0 -5.2 Q1.05 -1.05 4.8 0 Q1.05 1.05 0 5.2 Q-1.05 1.05 -4.8 0 Q-1.05 -1.05 0 -5.2 Z" fill="#e9b20e"/></g><g transform="translate(611.4,451.2)"><path d="M-8 -4.4 Q-8 -7.4 -5 -7.4 L-3.2 -7.4 L0 -10.8 L3.2 -7.4 L5 -7.4 Q8 -7.4 8 -4.4 L8 4.6 Q8 7.6 5 7.6 L-5 7.6 Q-8 7.6 -8 4.6 Z" fill="#fde36e"/><path d="M0 -5.2 Q1.05 -1.05 4.8 0 Q1.05 1.05 0 5.2 Q-1.05 1.05 -4.8 0 Q-1.05 -1.05 0 -5.2 Z" fill="#e9b20e"/></g><g transform="translate(640.6,451.2)"><path d="M-8 -4.4 Q-8 -7.4 -5 -7.4 L-3.2 -7.4 L0 -10.8 L3.2 -7.4 L5 -7.4 Q8 -7.4 8 -4.4 L8 4.6 Q8 7.6 5 7.6 L-5 7.6 Q-8 7.6 -8 4.6 Z" fill="#fde36e"/><path d="M0 -5.2 Q1.05 -1.05 4.8 0 Q1.05 1.05 0 5.2 Q-1.05 1.05 -4.8 0 Q-1.05 -1.05 0 -5.2 Z" fill="#e9b20e"/></g><g transform="translate(677.4,451.2)"><path d="M-8 -4.4 Q-8 -7.4 -5 -7.4 L-3.2 -7.4 L0 -10.8 L3.2 -7.4 L5 -7.4 Q8 -7.4 8 -4.4 L8 4.6 Q8 7.6 5 7.6 L-5 7.6 Q-8 7.6 -8 4.6 Z" fill="#fde36e"/><path d="M0 -5.2 Q1.05 -1.05 4.8 0 Q1.05 1.05 0 5.2 Q-1.05 1.05 -4.8 0 Q-1.05 -1.05 0 -5.2 Z" fill="#e9b20e"/></g>
<g>
<g opacity="0.85"><circle cx="640" cy="431" r="9.6" fill="#fdec98"/>
<path d="M632.3 429 Q632.3 426 635.5 425.8 L643.5 425.8 Q647 426.2 646.6 428.8 Q645.5 432.5 642.6 436 L641.6 440.4 Q636.5 441 633.6 438.2 Q632.5 434 632.8 429 Z" fill="#97e06c"/>
<circle cx="638.3" cy="428.6" r="1.6" fill="#fff"/>
<circle cx="639" cy="428.6" r="1" fill="#555"/></g>
<text x="656.8" y="434.6" class="cg" textLength="62.8" lengthAdjust="spacingAndGlyphs">coingecko</text>
</g>
<rect x="34" y="534" width="689.5" height="48.5" fill="#fff" stroke="#f1f3f6" stroke-width="1.6"/>
<line x1="69.8" x2="69.8" y1="534" y2="583" stroke="#eef0f3" stroke-width="1"/><line x1="177.2" x2="177.2" y1="534" y2="583" stroke="#eef0f3" stroke-width="1"/><line x1="284.8" x2="284.8" y1="534" y2="583" stroke="#eef0f3" stroke-width="1"/><line x1="391.5" x2="391.5" y1="534" y2="583" stroke="#eef0f3" stroke-width="1"/><line x1="498.5" x2="498.5" y1="534" y2="583" stroke="#eef0f3" stroke-width="1"/><line x1="605.4" x2="605.4" y1="534" y2="583" stroke="#eef0f3" stroke-width="1"/><line x1="713.7" x2="713.7" y1="534" y2="583" stroke="#eef0f3" stroke-width="1"/>
<path d="M33.5 583 L33.5 582 L230 581.6 L260 580.9 L275 579.5 L280 577.5 L283 576 L287 577.7 L300 580 L320 581 L340 580.5 L355 578.6 L365 577.6 L380 578.5 L395 579 L410 579 L420 577.8 L430 578 L440 575.5 L445 570 L450 565.7 L455 562.3 L460 561.4 L465 564.5 L470 568.9 L475 569.5 L480 564 L485 563 L488 560 L492 560.5 L496 565 L500 567 L505 567 L510 567.7 L515 571 L520 573.6 L530 574.7 L540 575.5 L550 576 L555 574 L560 572.6 L570 571.4 L580 571.4 L590 570 L600 566 L605 565 L610 558 L612 557.2 L618 556.2 L625 558.2 L628 557 L632 558.5 L636 560.4 L642 560.4 L648 558.5 L652 547 L656 545 L662 545.5 L666 546 L670 550.7 L674 550.5 L678 543 L684 541.5 L688 539 L694 539.5 L700 540 L704 543 L708 548.8 L712 549.2 L716 549.6 L721 550 L723.5 551 L723.5 583 Z" fill="#eceff3"/>
<g class="nl"><text x="73.3" y="579">2014</text><text x="180.7" y="579">2016</text><text x="288.3" y="579">2018</text><text x="395.0" y="579">2020</text><text x="502.0" y="579">2022</text><text x="608.9" y="579">2024</text><text x="717.2" y="579">2026</text></g>
<rect x="719" y="551.8" width="8.4" height="13.2" rx="0.6" fill="#fff" stroke="#cbd5e3" stroke-width="1"/>
<rect x="721.1" y="555" width="3" height="6.8" fill="#d5dce7"/>
</svg>
</div></body></html>
